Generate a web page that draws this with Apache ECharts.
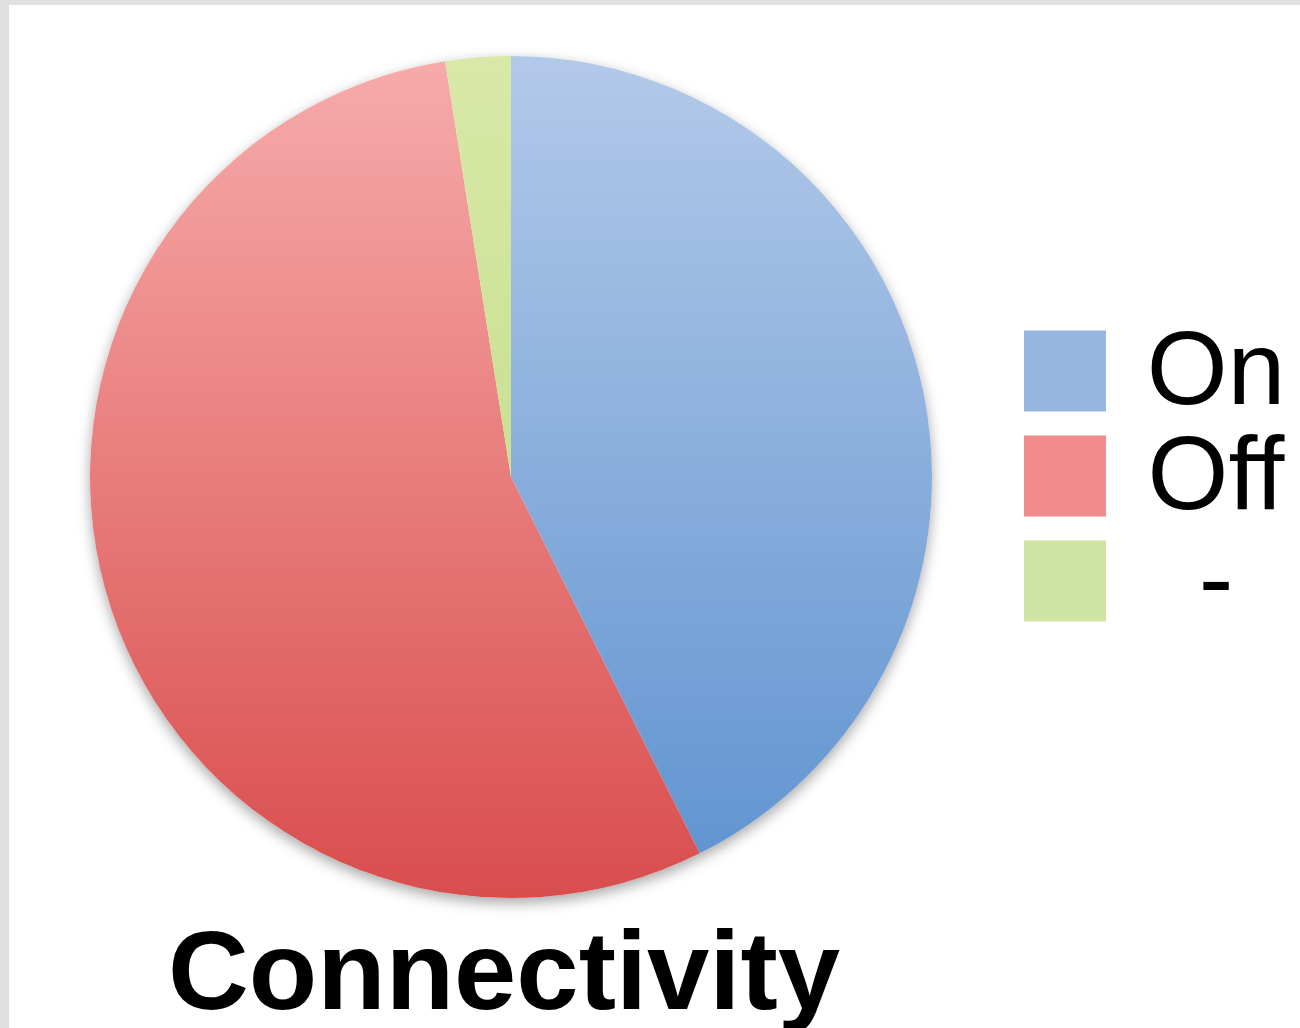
<!DOCTYPE html>
<html>
<head>
<meta charset="utf-8">
<script src="https://cdn.jsdelivr.net/npm/echarts@6/dist/echarts.min.js"></script>
<style>
  html, body { margin: 0; padding: 0; background: #e0e0e0; }
  #chart { position: absolute; left: 9px; top: 5px; width: 1291px; height: 1023px; background: #fff; }
</style>
</head>
<body>
<div id="chart"></div>
<script>
  // slices, clockwise from 12 o'clock
  const categories = ['On', 'Off', '-']
  const shares = [42.6, 54.9, 2.5]
  const legendColors = ['#96b6e1', '#f28b8d', '#cfe3a3']
  const gradTop = ['#b3c9e9', '#f7abab', '#d9e8a8']
  const gradBottom = ['#5d92cf', '#d94d4d', '#b9d87a']

  // pie geometry (canvas px, chart div is offset 9,5)
  const cx = 502, cy = 472, r = 421

  const chart = echarts.init(document.getElementById('chart'))

  const pieData = categories.map((name, i) => ({
    name: name,
    value: shares[i],
    itemStyle: {
      color: {
        type: 'linear', global: true,
        x: 0, y: cy - r, x2: 0, y2: cy + r,
        colorStops: [
          { offset: 0, color: gradTop[i] },
          { offset: 1, color: gradBottom[i] }
        ]
      }
    }
  }))

  chart.setOption({
    animation: false,
    title: {
      text: 'Connectivity',
      left: 490,
      top: 912,
      textAlign: 'center',
      textStyle: {
        fontFamily: 'Liberation Sans',
        fontWeight: 'bold',
        fontSize: 112,
        lineHeight: 113,
        color: '#000'
      }
    },
    legend: {
      orient: 'vertical',
      left: 1015,
      top: 318,
      padding: 0,
      itemWidth: 82,
      itemHeight: 81,
      itemGap: 1,
      icon: 'rect',
      selectedMode: false,
      data: categories.map((name, i) => ({ name: name, itemStyle: { color: legendColors[i] } })),
      formatter: '{t|{name}}',
      textStyle: {
        rich: {
          t: {
            fontFamily: 'Liberation Sans',
            fontSize: 104,
            height: 81,
            lineHeight: 81,
            width: 150,
            align: 'center',
            padding: [8, 0, 0, 30],
            color: '#000'
          }
        }
      }
    },
    series: [
      {
        // soft shadow under the whole pie
        type: 'pie',
        silent: true,
        center: [cx, cy],
        radius: r,
        label: { show: false },
        itemStyle: {
          color: '#fff',
          shadowBlur: 14,
          shadowOffsetY: 5,
          shadowColor: 'rgba(0,0,0,0.35)'
        },
        data: [{ name: 'shadow', value: 1 }]
      },
      {
        type: 'pie',
        center: [cx, cy],
        radius: r,
        startAngle: 90,
        clockwise: true,
        label: { show: false },
        labelLine: { show: false },
        emphasis: { disabled: true },
        data: pieData
      }
    ]
  })
</script>
</body>
</html>
